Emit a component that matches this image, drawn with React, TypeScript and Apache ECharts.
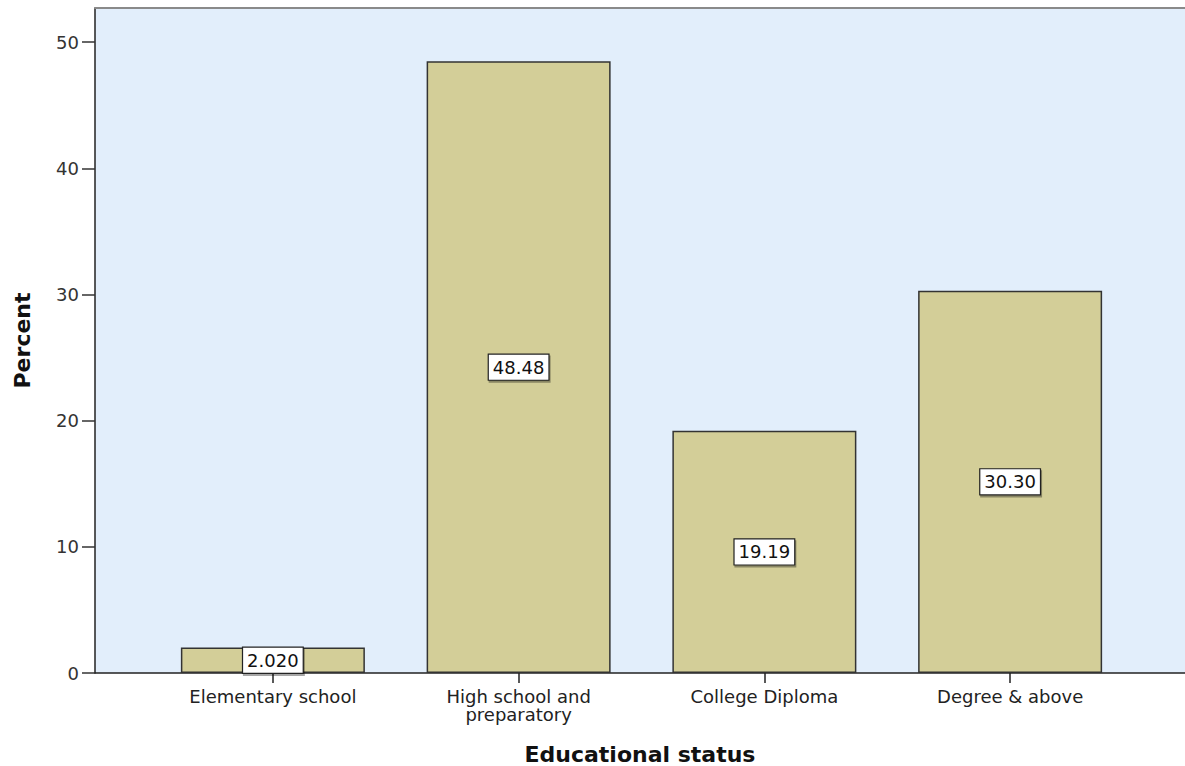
import React, { useEffect, useRef } from "react";
import * as echarts from "echarts";

const categories = ["Elementary school", "High school and\npreparatory", "College Diploma", "Degree & above"];
const percents = [2.02, 48.48, 19.19, 30.3];
const yTicks = [0, 10, 20, 30, 40, 50];
const yMax = 52.7;

const FONT = "DejaVu Sans";

export default function App() {
  const ref = useRef<HTMLDivElement>(null);
  useEffect(() => {
    if (!ref.current) return;
    const chart = echarts.init(ref.current, undefined, { renderer: "svg" });
    chart.setOption({
      animation: false,
      backgroundColor: "#ffffff",
      grid: [
        { left: 95, right: 0, top: 8, bottom: 93, show: true, backgroundColor: "#E2EEFB", borderWidth: 0, containLabel: false, outerBoundsMode: "none" },
        { left: 150, right: 52, top: 8, bottom: 93, containLabel: false, outerBoundsMode: "none" },
      ],
      xAxis: [
        {
          gridIndex: 0,
          type: "value",
          min: 0,
          max: 1,
          position: "bottom",
          axisLine: { show: true, lineStyle: { color: "#222", width: 1.5 } },
          axisTick: { show: false },
          axisLabel: { show: false },
          splitLine: { show: false },
          name: "Educational status",
          nameLocation: "middle",
          nameGap: 70,
          nameTextStyle: { fontFamily: FONT, fontSize: 22, fontWeight: "bold", color: "#111" },
        },
        {
          gridIndex: 0,
          type: "value",
          min: 0,
          max: 1,
          position: "top",
          axisLine: { show: true, lineStyle: { color: "#8a8a8a", width: 2 } },
          axisTick: { show: false },
          axisLabel: { show: false },
          splitLine: { show: false },
        },
        {
          gridIndex: 1,
          type: "category",
          data: categories,
          axisLine: { show: false },
          axisTick: { show: true, alignWithLabel: true, length: 10, lineStyle: { color: "#222", width: 1.5 } },
          axisLabel: { fontFamily: FONT, fontSize: 18, lineHeight: 18, color: "#222", margin: 14, interval: 0 },
          splitLine: { show: false },
        },
      ],
      yAxis: [
        {
          gridIndex: 0,
          type: "value",
          min: 0,
          max: yMax,
          axisLine: { show: true, lineStyle: { color: "#222", width: 1.5 } },
          axisTick: { show: true, length: 13, customValues: yTicks, lineStyle: { color: "#333", width: 1.5 } },
          axisLabel: { fontFamily: FONT, fontSize: 18, color: "#333", margin: 16, customValues: yTicks },
          splitLine: { show: false },
          name: "Percent",
          nameLocation: "middle",
          nameRotate: 90,
          nameGap: 62,
          nameTextStyle: { fontFamily: FONT, fontSize: 22, fontWeight: "bold", color: "#111" },
        },
        {
          gridIndex: 1,
          type: "value",
          min: 0,
          max: yMax,
          show: false,
          splitLine: { show: false },
        },
      ],
      series: [
        {
          type: "bar",
          xAxisIndex: 2,
          yAxisIndex: 1,
          data: percents,
          barWidth: 184,
          itemStyle: { color: "#D3CE98", borderColor: "#333", borderWidth: 1.5 },
          label: {
            show: true,
            position: "inside",
            formatter: (p: any) => Number(p.value).toPrecision(4),
            fontFamily: FONT,
            fontSize: 18,
            color: "#111",
            backgroundColor: "#ffffff",
            borderColor: "#222",
            borderWidth: 1.2,
            padding: [4, 4, 3, 4],
            shadowColor: "rgba(0,0,0,0.35)",
            shadowOffsetX: 1,
            shadowOffsetY: 2,
            shadowBlur: 0,
          },
        },
      ],
    });
    return () => chart.dispose();
  }, []);
  return <div ref={ref} style={{ position: "absolute", left: 0, top: 0, width: 1185, height: 766 }} />;
}
